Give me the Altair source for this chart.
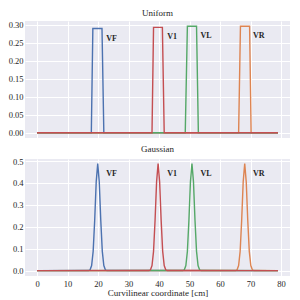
import altair as alt
import pandas as pd

names = ["VF", "VR", "VL", "V1"]
colors = {"VF": "#4C72B0", "V1": "#C44E52", "VL": "#55A868", "VR": "#DD8452"}

# Uniform: breakpoints
uni_x = {
    "VF": [0, 17.8, 18.3, 21.3, 21.9, 79],
    "V1": [0, 37.7, 38.2, 41.1, 41.7, 79],
    "VL": [0, 48.6, 49.3, 52.3, 52.9, 79],
    "VR": [0, 66.1, 66.7, 69.7, 70.2, 79],
}
uni_y = {
    "VF": [0, 0, 0.290, 0.290, 0, 0],
    "V1": [0, 0, 0.293, 0.293, 0, 0],
    "VL": [0, 0, 0.296, 0.296, 0, 0],
    "VR": [0, 0, 0.296, 0.296, 0, 0],
}

# Gaussian: peak centres and sampled profile around each peak
gauss_center = {"VF": 19.9, "V1": 39.7, "VL": 50.8, "VR": 68.1}
gauss_offsets = [-3.0, -2.5, -2.0, -1.5, -1.0, -0.5, 0.0, 0.5, 1.0, 1.5, 2.0, 2.5, 3.0]
gauss_values = [0.0005, 0.004, 0.023, 0.088, 0.229, 0.405, 0.488, 0.405, 0.229, 0.088, 0.023, 0.004, 0.0005]
x_start, x_end = 0, 79

labels = ["VF", "V1", "VL", "VR"]
uni_label_x = [22.7, 42.7, 53.6, 70.8]
uni_label_y = [0.262, 0.265, 0.270, 0.270]
gau_label_x = [22.7, 42.7, 53.6, 70.8]
gau_label_y = [0.44, 0.44, 0.44, 0.44]

FONT = "Liberation Serif"
xscale = alt.Scale(domain=[-3.95, 82.95], nice=False, zero=False)

def build_uniform(n):
    return pd.DataFrame({"x": uni_x[n], "y": uni_y[n]})

def build_gauss(n):
    c = gauss_center[n]
    xs = [x_start] + [c + o for o in gauss_offsets] + [x_end]
    ys = [0] + gauss_values + [0]
    return pd.DataFrame({"x": xs, "y": ys})

def panel(builder, ydom, yticks, yfmt, title, lx, ly, show_x):
    yscale = alt.Scale(domain=ydom, nice=False, zero=False)
    if show_x:
        xaxis = alt.Axis(values=list(range(0, 81, 10)), title="Curvilinear coordinate [cm]",
                         labelPadding=3, titlePadding=1, labelOverlap=False, labelFlush=False)
    else:
        xaxis = alt.Axis(values=list(range(0, 81, 10)), labels=False, title=None)
    yaxis = alt.Axis(values=yticks, format=yfmt, title=None, labelPadding=2,
                     labelOverlap=False, labelFlush=False)
    layers = []
    for n in names:
        layers.append(
            alt.Chart(builder(n)).mark_line(color=colors[n], strokeWidth=1.4, clip=True).encode(
                x=alt.X("x:Q", scale=xscale, axis=xaxis),
                y=alt.Y("y:Q", scale=yscale, axis=yaxis),
            )
        )
    lab = pd.DataFrame({"x": lx, "y": ly, "t": labels})
    layers.append(
        alt.Chart(lab).mark_text(align="left", baseline="middle", font=FONT, fontWeight="bold",
                                 fontSize=8, color="#262626").encode(
            x=alt.X("x:Q", scale=xscale, axis=xaxis),
            y=alt.Y("y:Q", scale=yscale, axis=yaxis), text="t:N")
    )
    return alt.layer(*layers).properties(width=265, height=117, title=title)

top = panel(build_uniform, [-0.0148, 0.3108], [0, 0.05, 0.1, 0.15, 0.2, 0.25, 0.3], ".2f",
            "Uniform", uni_label_x, uni_label_y, False)
bot = panel(build_gauss, [-0.0244, 0.5093], [0, 0.1, 0.2, 0.3, 0.4, 0.5], ".1f",
            "Gaussian", gau_label_x, gau_label_y, True)

chart = alt.vconcat(top, bot, spacing=7).properties(
    padding={"left": 0, "top": 0, "right": 0, "bottom": 0}
).configure_view(fill="#EAEAF2", stroke=None).configure_axis(
    domain=False, ticks=False, grid=True, gridColor="white", gridWidth=1,
    labelFont=FONT, labelFontSize=8.5, labelColor="#262626",
    titleFont=FONT, titleFontSize=9, titleFontWeight="normal", titleColor="#262626",
).configure_title(font=FONT, fontSize=9, fontWeight="normal", color="#262626", offset=3)

chart.save("out.html", embed_options={"renderer": "svg", "actions": False})
